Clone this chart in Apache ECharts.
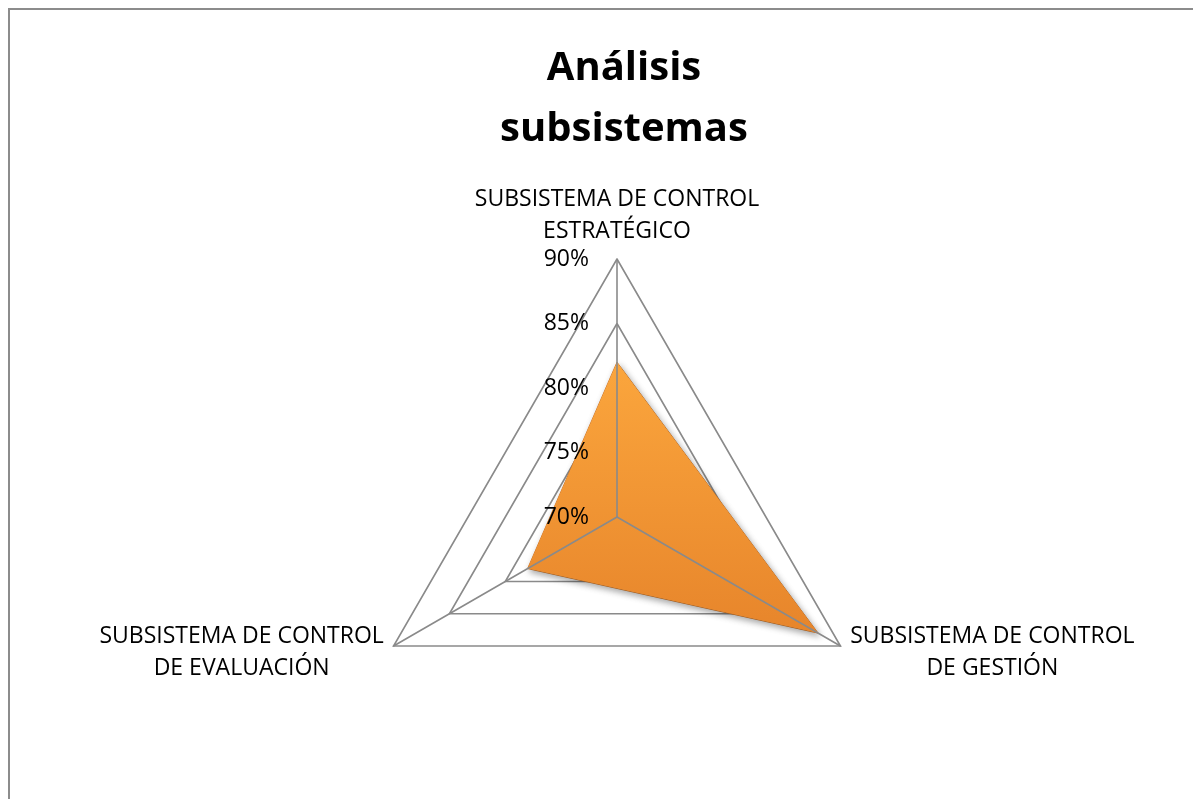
<!DOCTYPE html>
<html>
<head>
<meta charset="utf-8">
<script src="https://cdn.jsdelivr.net/npm/echarts@6/dist/echarts.min.js"></script>
<style>
  html, body { margin: 0; padding: 0; background: #fff; }
  #frame { position: absolute; left: 8px; top: 8px; width: 1300px; height: 900px;
           border-left: 2px solid #8c8c8c; border-top: 2px solid #8c8c8c; box-sizing: border-box; }
  #chart { position: absolute; left: 0; top: 0; width: 1193px; height: 799px; }
</style>
</head>
<body>
<div id="frame"></div>
<div id="chart"></div>
<script>
// ---- data (in the order ECharts draws them: top, then counter-clockwise) ----
const titleText = 'Análisis\nsubsistemas';
const categories = [
  'SUBSISTEMA DE CONTROL\nESTRATÉGICO',
  'SUBSISTEMA DE CONTROL\nDE EVALUACIÓN',
  'SUBSISTEMA DE CONTROL\nDE GESTIÓN'
];
const values = [82, 78, 88];          // percent
const axisMin = 70;
const axisMax = 90;
const tickStep = 5;

const FONT = '"Open Sans"';

const indicatorNamed = categories.map((c, i) => ({
  name: c, min: axisMin, max: axisMax,
  nameTextStyle: i === 0 ? { padding: [0, 0, 4, 0] } : { padding: [5, 0, 0, 0] }
}));
const indicatorTop = categories.map((c, i) => ({
  name: c, min: axisMin, max: axisMax,
  axisLabel: { show: i === 0 }
}));

const chart = echarts.init(document.getElementById('chart'), null, { renderer: 'canvas' });

const nameRich = {
  n: { width: 290, align: 'center', fontFamily: FONT, fontSize: 23, color: '#000', lineHeight: 32 }
};
const split = (axisMax - axisMin) / tickStep;

chart.setOption({
  backgroundColor: 'transparent',
  animation: false,
  title: {
    text: titleText,
    left: 619, top: 33,
    textAlign: 'center',
    textStyle: { fontFamily: FONT, fontWeight: 'bold', fontSize: 40, color: '#000', lineHeight: 61 }
  },
  radar: [{
    center: [617, 517],
    radius: 258,
    startAngle: 90,
    shape: 'polygon',
    splitNumber: split,
    indicator: indicatorNamed,
    axisName: {
      formatter: function (name) {
        return name.split('\n').map(s => '{n|' + s + '}').join('\n');
      },
      rich: nameRich,
      color: '#000'
    },
    axisNameGap: 8,
    axisLine: { show: false },
    axisTick: { show: false },
    axisLabel: { show: false },
    splitLine: { lineStyle: { color: '#8a8a8a', width: 1.6 } },
    splitArea: { show: false },
    z: 0
  }, {
    center: [617, 517],
    radius: 258,
    startAngle: 90,
    shape: 'polygon',
    splitNumber: split,
    indicator: indicatorTop,
    axisName: { show: false },
    axisLine: { show: true, lineStyle: { color: '#8a8a8a', width: 1.6 } },
    axisTick: { show: false },
    axisLabel: {
      show: false,
      formatter: '{value}%',
      margin: 28,
      padding: [6, 0, 0, 0],
      fontFamily: FONT, fontSize: 23, color: '#000'
    },
    splitLine: { show: false },
    splitArea: { show: false },
    z: 5
  }],
  series: [{
    type: 'radar',
    radarIndex: 0,
    symbol: 'none',
    z: 2,
    data: [{
      value: values,
      lineStyle: { color: '#d97a26', width: 1, shadowBlur: 6, shadowColor: 'rgba(0,0,0,0.35)', shadowOffsetX: 2, shadowOffsetY: 3 },
      areaStyle: {
        opacity: 1,
        color: new echarts.graphic.LinearGradient(0, 0, 0, 1, [
          { offset: 0, color: '#fba63d' },
          { offset: 1, color: '#e7852b' }
        ]),
        shadowBlur: 6, shadowColor: 'rgba(0,0,0,0.35)', shadowOffsetX: 2, shadowOffsetY: 3
      }
    }]
  }]
});
</script>
</body>
</html>
